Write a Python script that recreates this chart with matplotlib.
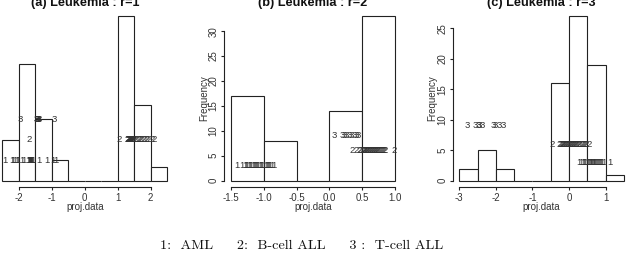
import numpy as np
import matplotlib.pyplot as plt

plt.rcParams['font.family'] = ['Liberation Sans', 'DejaVu Sans']
plt.rcParams['axes.unicode_minus'] = False

# projected values per class
# r = 1
aml_r1 = [-2.42, -2.22, -2.17, -2.12, -2.07, -2.02,
          -1.91, -1.86, -1.72, -1.71, -1.70, -1.69, -1.68, -1.67, -1.66, -1.65,
          -1.64, -1.63, -1.62, -1.60, -1.58,
          -1.40, -1.16, -0.96, -0.89]
bcell_r1 = [-1.70, 1.05,
            1.28, 1.30, 1.31, 1.32, 1.33, 1.34, 1.35, 1.35, 1.36, 1.37,
            1.38, 1.38, 1.39, 1.40, 1.41, 1.42, 1.43, 1.44, 1.45, 1.46,
            1.47, 1.48, 1.49,
            1.52, 1.56, 1.61, 1.64, 1.69, 1.72, 1.78, 1.81, 1.86, 1.90, 1.95,
            2.04, 2.11]
tcell_r1 = [-1.96, -1.49, -1.47, -1.45, -1.43, -1.42, -1.40, -1.38, -0.94]

# r = 2
aml_r2 = [-1.41, -1.33, -1.29, -1.27, -1.25, -1.23, -1.21, -1.19, -1.17, -1.15,
          -1.13, -1.12, -1.10, -1.08, -1.06, -1.04, -1.02,
          -0.99, -0.97, -0.95, -0.94, -0.92, -0.90, -0.88, -0.85]
bcell_r2 = [0.34, 0.40, 0.45, 0.47, 0.49,
            0.51, 0.52, 0.52, 0.53, 0.54, 0.55, 0.56, 0.57, 0.58, 0.59,
            0.60, 0.61, 0.62, 0.63, 0.64, 0.65, 0.66, 0.67, 0.68, 0.69,
            0.70, 0.71, 0.72, 0.73, 0.74, 0.75, 0.77, 0.78, 0.80, 0.81,
            0.83, 0.85, 0.99]
tcell_r2 = [0.07, 0.20, 0.22, 0.25, 0.30, 0.33, 0.37, 0.40, 0.43]

# r = 3
aml_r3 = [0.28, 0.33, 0.37, 0.41, 0.44, 0.48,
          0.52, 0.55, 0.57, 0.59, 0.61, 0.63, 0.65, 0.67, 0.69, 0.71,
          0.73, 0.75, 0.78, 0.81, 0.84, 0.87, 0.91, 0.95, 1.12]
bcell_r3 = [-0.45,
            -0.26, -0.24, -0.22, -0.20, -0.18, -0.17, -0.15, -0.13, -0.11,
            -0.10, -0.08, -0.06, -0.05, -0.03, -0.01,
            0.01, 0.03, 0.05, 0.06, 0.08, 0.10, 0.12, 0.14, 0.16, 0.18,
            0.20, 0.22, 0.25, 0.27, 0.29, 0.32, 0.35, 0.38, 0.41, 0.45,
            0.48, 0.54]
tcell_r3 = [-2.78, -2.56, -2.48, -2.45, -2.36, -2.07, -2.02, -1.90, -1.80]

titles = ['(a) Leukemia : r=1', '(b) Leukemia : r=2', '(c) Leukemia : r=3']
breaks = [[-2.5, -2.0, -1.5, -1.0, -0.5, 0.0, 0.5, 1.0, 1.5, 2.0, 2.5],
          [-1.5, -1.0, -0.5, 0.0, 0.5, 1.0],
          [-3.0, -2.5, -2.0, -1.5, -1.0, -0.5, 0.0, 0.5, 1.0, 1.5]]
xticks = [[-2, -1, 0, 1, 2],
          [-1.5, -1.0, -0.5, 0.0, 0.5, 1.0],
          [-3, -2, -1, 0, 1]]
xticklabels = [['-2', '-1', '0', '1', '2'],
               ['-1.5', '-1.0', '-0.5', '0.0', '0.5', '1.0'],
               ['-3', '-2', '-1', '0', '1']]
yticks = [[0, 5, 10, 15, 20],
          [0, 5, 10, 15, 20, 25, 30],
          [0, 5, 10, 15, 20, 25]]
groups = [(aml_r1, bcell_r1, tcell_r1),
          (aml_r2, bcell_r2, tcell_r2),
          (aml_r3, bcell_r3, tcell_r3)]
class_labels = ['1', '2', '3']
label_heights = [3, 6, 9]

W, H = 629, 259
fig = plt.figure(figsize=(W / 100, H / 100), dpi=100)
lefts = [-4.1, 224.1, 452.7]
top, bottom, width = 9.6, 187.3, 177.8

ink = '#222222'
for i in range(3):
    ax = fig.add_axes([lefts[i] / W, 1 - bottom / H, width / W, (bottom - top) / H])
    allvals = groups[i][0] + groups[i][1] + groups[i][2]
    n, _, _ = ax.hist(allvals, bins=breaks[i], color='white', edgecolor=ink,
                      linewidth=0.8)
    for vals, lab, lev in zip(groups[i], class_labels, label_heights):
        for v in vals:
            ax.text(v, lev, lab, ha='center', va='center', fontsize=6.8,
                    color='#333333')

    lo, hi = breaks[i][0], breaks[i][-1]
    pad = 0.04 * (hi - lo)
    ax.set_xlim(lo - pad, hi + pad)
    ax.set_ylim(-0.04 * n.max(), 1.04 * n.max())

    for s in ['top', 'right']:
        ax.spines[s].set_visible(False)
    for s in ['left', 'bottom']:
        ax.spines[s].set_linewidth(0.8)
        ax.spines[s].set_color(ink)
    ax.spines['bottom'].set_bounds(xticks[i][0], xticks[i][-1])
    ax.spines['left'].set_bounds(yticks[i][0], yticks[i][-1])

    ax.set_xticks(xticks[i])
    ax.set_xticklabels(xticklabels[i])
    ax.set_yticks(yticks[i])
    ax.set_yticklabels([str(t) for t in yticks[i]], rotation=90, va='center')
    ax.tick_params(length=2.5, width=0.8, pad=1.5, labelsize=7,
                   colors=ink, labelcolor='#333333')
    ax.patch.set_visible(False)

    ax.text(0.5, 1 + 3.6 / (bottom - top), titles[i], transform=ax.transAxes,
            ha='center', va='baseline', fontsize=9.2, fontweight='bold', color='#111111')
    ax.text(0.5, -19.5 / (bottom - top), 'proj.data', transform=ax.transAxes,
            ha='center', va='center', fontsize=7, color='#333333')
    ax.text(-20 / width, 0.5, 'Frequency', transform=ax.transAxes, rotation=90,
            ha='center', va='center', fontsize=7, color='#333333')

fig.text(301.5 / W, 1 - 249 / H,
         '1:  AML     2:  B-cell ALL     3 :  T-cell ALL',
         ha='center', va='baseline', fontsize=10.2, family='cmr10', color='#111111')

fig.savefig('out.png', dpi=100)
